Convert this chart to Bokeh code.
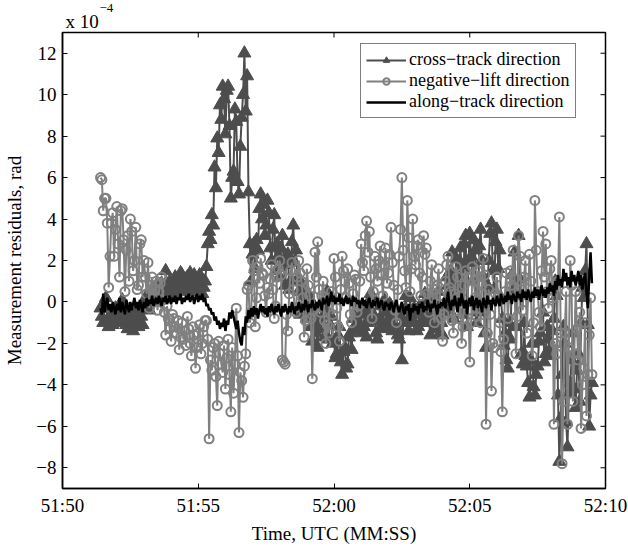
import numpy as np
from bokeh.plotting import figure
from bokeh.models import Range1d, FixedTicker, Legend, LegendItem, Title
from bokeh.embed import file_html
from bokeh.resources import INLINE

# ---------------- data (seconds after 51:50 UTC, residuals in 1e-4 rad) ----------------
t0 = 1.4       # first sample time (s after 51:50)
dt = 0.05      # sample spacing (s)

cross_track = [
    -0.3, -0.7, -1.0, -0.2, 0.2, -0.9, -1.2, -0.8, -0.6, -1.1, -0.9, -0.3,
    -0.4, -1.0, -0.8, -0.2, 0.1, -0.9, -0.6, -1.1, -1.3, -0.5, -0.9, -1.2, -1.4, -0.8, -0.5, -1.0, -1.2, -0.3, -0.7, -1.1,
    -0.2, 0.1, 0.3, -0.3, -0.4, 0.2, 0.5, 0.0, 0.2, 0.8, 0.6, 0.3, 0.1, 0.9, 0.7, 0.2, 1.5, 0.8, 0.4, 1.0,
    0.9, 0.4, 0.5, 1.2, 1.1, 0.6, 0.6, 1.4, 1.3, 0.8, 0.7, 1.1, 1.2, 0.5, 1.4, 1.0, 0.8, 1.3, 1.1, 0.6,
    0.8, 1.3, 1.2, 0.4, 0.7, 1.0, 1.7, 2.8, 3.4, 3.0, 4.2, 3.7, 6.5, 5.5, 7.9, 7.2, 9.5, 8.8, 10.4, 9.8,
    8.1, 10.2, 10.4, 8.5, 5.0, 6.0, 6.3, 9.3, 8.7, 5.8, 5.2, 7.5, 8.9, 10.0, 12.0, 9.2, 10.9, 5.3, 2.8, 1.0,
    2.3, 2.8, 1.6, 3.0, 2.5, 4.5, 5.2, 4.0, 4.7, 3.2, 3.7, 4.9, 4.3, 2.6, 2.0, 3.5, 4.2, 1.5, 2.8, 2.2,
    1.2, 2.6, 3.2, 1.8, 0.8, 2.0, 2.3, 0.6, 1.0, 2.9, 3.7, 1.9, 2.5, 1.1, 0.5, -0.6, -0.4, 0.8, 0.3, -0.2,
    -0.8, 0.4, 0.2, -1.2, -1.9, -0.5, -0.6, -1.5, -2.2, -1.0, -0.9, -0.2, -1.3, -1.7, -0.3, 0.5, -1.8, -1.1, -0.7, -2.0,
    -1.9, -2.7, -2.5, -1.6, -1.2, -2.9, -3.5, -2.4, -2.2, -3.2, -3.0, -1.7, -1.5, -2.3, -0.8, -1.4, -1.1, -0.3, -0.4, -1.3,
    -0.6, -1.5, -1.2, -0.5, -1.7, -1.0, -0.4, 0.4, 0.3, -0.6, -0.8, -1.5, -1.8, -0.9, -0.2, -1.3, -1.0, 0.1, -0.5, -1.2,
    -0.9, -0.1, -0.2, -1.4, -1.1, -0.3, -0.6, -1.6, -1.8, -0.7, -2.8, -1.0, -0.4, 0.3, -0.9, -1.4, 0.2, -0.6, -1.0, -0.3,
    -0.5, -1.4, -1.2, -0.2, -0.3, -1.0, -0.8, 0.4, 0.1, -0.7, -1.0, -1.6, -0.4, 0.2, -1.3, -0.9, -0.6, 0.5, -1.5, -1.0,
    -1.6, -0.5, -0.3, 1.2, 0.8, -0.4, 1.5, 2.4, -0.8, 0.9, 2.1, 1.3, 0.5, 2.6, 1.8, -0.6, 2.8, 3.2, -1.2, 1.9,
    3.3, 2.2, 1.0, 3.0, 2.5, -1.0, -0.5, 2.7, 3.5, 2.0, 1.2, -1.5, -2.2, 0.8, 2.0, 3.3, 3.8, 1.5, 0.6, 2.9,
    3.5, 1.6, 2.5, 0.2, -0.8, -2.1, -1.5, -2.8, -3.2, -1.0, -1.8, 1.3, 0.5, 2.4, -1.2, 0.3, 3.2, 1.1, -2.5, -3.0,
    -1.0, -2.6, -3.1, -3.9, -4.6, -2.8, -2.0, -4.1, -4.5, -3.5, -3.1, -1.9, -1.5, 0.4, -0.5, -2.9, -2.5, -1.2, -1.8, -2.6,
    -2.2, -1.4, -0.8, 1.0, 0.3, -4.5, -7.7, -5.6, -3.5, -1.2, -2.0, -5.8, -7.0, -4.4, -3.9, -2.8, -1.5, -4.2, -5.1, -3.3,
    -2.5, -4.8, -1.0, 0.7, 0.2, 1.5, 2.8, -1.1, -6.0, -4.5, -3.9,
]

negative_lift = [
    6.0, 5.9, 4.4, 5.0, 5.0, 3.8, 0.7, 2.2, 3.8, 4.3, 2.2, 3.5,
    4.6, 2.8, 1.2, 4.4, 4.5, 3.0, 0.5, 2.5, 3.2, 1.0, 4.0, 3.4, 1.5, 2.0, 3.6, 0.6, 0.8, 2.8, 3.0, 1.2,
    2.0, 1.2, 0.4, 1.9, -0.3, 0.8, 1.2, 0.2, 0.6, 1.0, -0.4, 0.5, 0.9, 1.2, 0.1, -0.5, -1.6, -0.2, -0.8, -1.3,
    -1.9, -0.6, -0.8, -1.2, -1.5, -0.9, -2.3, -1.7, -1.0, -1.8, -1.4, -2.1, -0.7, -1.3, -2.0, -2.6, -1.2, -1.6, -3.2, -2.2,
    -1.5, -1.1, -2.5, -2.0, -1.2, -0.9, -0.9, -1.8, -6.6, -2.8, -3.3, -2.2, -2.0, -3.6, -5.0, -1.9, -2.5, -3.0, -3.4, -2.1,
    -4.2, -2.7, -1.8, -3.5, -5.3, -2.2, -4.4, -3.0, -0.3, -2.6, -6.3, -3.4, -3.8, -4.6, -3.1, -2.5, 0.6, 0.8, -1.0, -0.5,
    2.0, 1.5, -1.2, 0.2, 1.7, 0.9, 2.1, 1.4, 1.3, 0.3, -0.5, 0.7, 0.4, 1.1, 1.8, 0.6, -0.8, -0.2, 1.2, 1.6,
    2.0, 1.3, -2.8, -2.9, -3.0, -0.6, -1.4, 0.4, 1.5, 1.9, 0.6, -0.3, -0.5, 1.2, 2.0, 1.4, 1.0, 0.2, -1.7, -0.9,
    1.6, 0.8, 0.3, -0.8, -3.7, -0.4, 2.4, 1.2, 2.9, 0.6, -0.5, 0.3, 1.0, -0.9, -2.0, -1.1, -1.5, 0.2, 0.5, -0.6,
    2.1, 1.2, -0.3, -1.2, -1.9, 0.6, 2.2, 1.5, 1.0, 0.2, 1.6, 0.9, -0.6, -1.0, 0.4, 1.3, 1.1, -0.5, -0.2, 1.0,
    2.8, 1.9, 1.5, 3.2, 3.9, 2.4, 3.4, 1.2, -0.8, 0.5, 2.2, 1.6, 1.0, 2.0, 2.7, 1.3, 0.3, 1.8, 2.6, 0.9,
    1.4, 2.3, 3.6, 1.9, 0.8, -0.4, -1.0, 0.6, 2.2, 3.5, 6.0, 2.5, 1.5, 0.7, 4.9, 3.1, 0.5, 1.6, 4.0, 2.2,
    1.8, 2.7, 3.0, 1.4, 0.3, 1.2, 3.2, 2.3, 2.6, 0.4, -0.5, 1.0, 1.8, 0.2, -1.0, 0.6, 0.8, 1.6, 0.3, -0.8,
    -1.9, -0.6, 1.0, 1.8, 2.2, 0.7, 0.5, -0.9, -1.5, 0.4, 1.7, 1.2, -0.8, 0.3, -2.0, -1.2, 0.8, 1.5, 1.2, -0.4,
    -2.9, -1.0, 1.7, 1.0, 0.2, -0.7, 1.5, 0.9, -1.0, 0.8, 2.1, 1.3, -5.9, -1.5, 0.6, -0.6, -4.3, -2.0, -2.2, 0.4,
    1.2, 0.3, -1.0, -2.4, -5.3, -1.8, 0.5, 1.4, -0.8, 0.2, 1.5, 0.8, 2.5, 1.1, -2.5, -0.7, 3.2, 2.2, 0.6, -0.4,
    1.2, 2.0, -1.5, 0.3, 2.3, 1.0, -2.6, -1.0, 4.9, 2.5, 0.5, -0.5, -1.2, 1.5, 3.4, 1.2, 2.8, 0.5, -0.3, 1.6,
    2.0, 0.2, -5.9, -2.0, -2.5, 1.0, 4.1, -1.5, -7.8, -4.8, -1.5, 0.5, -5.9, -2.2, 2.0, 0.8, -4.8, -2.5, 0.5, -1.3,
    -2.8, -0.5, -6.1, -4.0, -3.2, -1.0, -5.5, -3.5, -1.6, 0.2, -3.5,
]

along_track = [
    -0.3, -0.6, 0.4, -0.5, -0.1, 0.2, -0.4, -0.1, -0.5, 0.0, -0.3, -0.6,
    -0.1, -0.4, 0.2, -0.5, 0.0, -0.3, -0.6, 0.1, -0.2, -0.5, 0.0, -0.4, -0.1, 0.2, -0.3, 0.0, -0.4, 0.1, -0.2, -0.5,
    0.0, -0.3, 0.2, -0.2, 0.1, -0.1, 0.3, -0.2, 0.0, 0.2, -0.1, 0.3, 0.0, -0.2, 0.2, 0.0, 0.3, -0.1, 0.1, 0.3,
    -0.1, 0.2, 0.0, 0.3, -0.1, 0.2, 0.1, 0.4, -0.1, 0.2, 0.0, 0.3, 0.1, 0.4, 0.0, 0.2, 0.3, -0.1, 0.2, 0.4,
    0.0, 0.3, 0.1, 0.4, 0.0, 0.2, -0.2, -0.1, -0.4, -0.3, -0.6, -0.5, -0.9, -0.7, -1.1, -0.9, -1.3, -1.0, -1.2, -0.8,
    -1.4, -0.9, -1.1, -0.5, -0.8, -0.4, -0.7, -1.0, -1.3, -0.9, -1.5, -1.9, -2.1, -1.2, -1.6, -0.7, -1.0, -0.4, -0.8, -0.3,
    -0.7, -0.2, -0.6, -0.3, -0.8, -0.4, -0.1, -0.5, -0.2, -0.6, -0.3, -0.7, -0.2, -0.5, -0.1, -0.4, -0.6, -0.2, -0.5, -0.1,
    -0.4, -0.7, -0.2, -0.5, -0.1, -0.4, -0.6, -0.2, -0.5, 0.0, -0.3, -0.6, -0.2, -0.4, 0.0, -0.3, -0.5, -0.1, -0.4, 0.1,
    -0.2, -0.5, -0.1, -0.3, 0.1, -0.2, -0.4, 0.0, -0.3, 0.1, -0.1, -0.4, 0.2, -0.1, 0.0, 0.3, -0.2, 0.1, 0.5, 0.0,
    0.3, -0.1, 0.2, 0.0, 0.4, -0.1, 0.2, -0.2, 0.1, 0.3, -0.1, 0.2, 0.0, -0.2, 0.3, 0.0, 0.2, -0.1, 0.1, -0.3,
    0.0, 0.2, -0.2, 0.1, -0.3, 0.0, 0.2, -0.1, -0.3, 0.1, -0.2, 0.0, 0.2, -0.3, -0.1, 0.1, -0.2, -0.4, 0.0, -0.2,
    -0.1, -0.4, 0.0, -0.2, -0.5, -0.1, 0.1, -0.3, -0.5, -0.2, 0.0, -0.4, -0.6, -0.2, -0.4, -0.1, -0.9, -0.3, -0.5, -0.1,
    -0.4, -0.2, -0.6, -0.1, -0.3, 0.0, -0.5, -0.2, -0.4, 0.1, -0.2, -0.5, -0.1, -0.3, 0.1, -0.2, -0.6, -0.1, -0.3, 0.0,
    -0.2, 0.2, -0.3, 0.0, 0.5, -0.1, -0.4, 0.1, -0.2, 0.3, -0.1, -0.5, 0.2, -0.2, 0.4, 0.0, -0.3, 0.1, -0.6, 0.0,
    0.2, -0.2, 0.3, -0.4, 0.0, 0.2, -0.3, 0.1, -0.1, -0.5, 0.2, 0.0, -0.3, 0.3, -0.1, 0.1, -0.4, 0.2, 0.0, -0.2,
    0.3, 0.0, -0.2, 0.4, 0.1, -0.1, 0.3, 0.0, 0.5, 0.1, 0.3, -0.1, 0.4, 0.2, 0.0, 0.5, 0.2, 0.4, 0.0, 0.6,
    0.2, 0.5, 0.1, 0.6, 0.3, 0.0, 0.5, 0.2, 0.7, 0.3, 0.6, 0.1, 0.5, 0.8, 0.3, 0.6, 0.2, 0.7, 0.4, 0.9,
    0.5, 0.8, 0.3, 1.0, 0.6, 1.3, 0.8, 1.1, 0.7, 1.6, 1.0, 1.4, 0.8, 1.2, 0.7, 1.5, 1.0, 1.3, 0.8, 1.1,
    1.5, 0.8, 1.3, 0.6, 1.1, 1.4, 0.4, -0.3, 1.2, 2.4, 0.9,
]

x_ticks = [0, 5, 10, 15, 20]
x_tick_labels = ["51:50", "51:55", "52:00", "52:05", "52:10"]
y_ticks = [-8, -6, -4, -2, 0, 2, 4, 6, 8, 10, 12]
y_tick_labels = ["\u22128", "\u22126", "\u22124", "\u22122", "0", "2", "4", "6", "8", "10", "12"]
series_labels = ["cross\u2212track direction", "negative\u2212lift direction", "along\u2212track direction"]
scale_base = "x 10"
scale_exp = "\u22124"

t_cross = t0 + dt * np.arange(len(cross_track))
t_neg = t0 + dt * np.arange(len(negative_lift))
t_along = t0 + dt * np.arange(len(along_track))

SERIF = "Liberation Serif"
DARK = "#4d4d4d"
MID = "#808080"
X0, X1, Y0, Y1 = 0, 20, -9, 13
FRAME_W, FRAME_H = 543, 456

p = figure(width=628, height=546, output_backend="svg", toolbar_location=None,
           x_range=Range1d(X0, X1), y_range=Range1d(Y0, Y1),
           min_border_left=62, min_border_right=23, min_border_top=32, min_border_bottom=58)
p.xgrid.visible = False
p.ygrid.visible = False
p.outline_line_color = "black"
p.outline_line_width = 1.5
p.background_fill_color = "white"
p.border_fill_color = "white"

# exponent (outer title, pulled down so it sits as a superscript beside "x 10")
p.title.text = scale_exp
p.title.align = "left"
p.title.offset = 37
p.title.standoff = -9
p.title.text_font = SERIF
p.title.text_font_size = "13px"
p.title.text_font_style = "normal"
p.title.text_color = "black"

# base "x 10" (inner title, right above the frame)
p.add_layout(Title(text=scale_base, align="left", offset=3, standoff=2,
                   text_font=SERIF, text_font_size="19px", text_font_style="normal",
                   text_color="black"), "above")

p.xaxis.ticker = FixedTicker(ticks=x_ticks)
p.xaxis.major_label_overrides = dict(zip(x_ticks, x_tick_labels))
p.yaxis.ticker = FixedTicker(ticks=y_ticks)
p.yaxis.major_label_overrides = dict(zip(y_ticks, y_tick_labels))
p.xaxis.axis_label = "Time, UTC (MM:SS)"
p.yaxis.axis_label = "Measurement residuals, rad"

for ax in [p.xaxis[0], p.yaxis[0]]:
    ax.major_tick_in = 5
    ax.major_tick_out = 0
    ax.minor_tick_in = 0
    ax.minor_tick_out = 0
    ax.axis_line_width = 1.5
    ax.axis_line_color = "black"
    ax.major_tick_line_color = "black"
    ax.major_label_text_font = SERIF
    ax.major_label_text_font_size = "19px"
    ax.major_label_text_color = "black"
    ax.axis_label_text_font = SERIF
    ax.axis_label_text_font_size = "19px"
    ax.axis_label_text_font_style = "normal"
    ax.axis_label_text_color = "black"
p.xaxis.major_label_standoff = 6
p.xaxis.axis_label_standoff = 4
p.yaxis.major_label_standoff = 6
p.yaxis.axis_label_standoff = 8

# mirror tick marks on top and right edges (MATLAB box style), 5 px long
tick_dy = 5 * (Y1 - Y0) / FRAME_H
tick_dx = 5 * (X1 - X0) / FRAME_W
p.segment(x0=x_ticks, y0=[Y1] * len(x_ticks), x1=x_ticks, y1=[Y1 - tick_dy] * len(x_ticks),
          line_color="black", line_width=1)
p.segment(x0=[X1] * len(y_ticks), y0=y_ticks, x1=[X1 - tick_dx] * len(y_ticks), y1=y_ticks,
          line_color="black", line_width=1)

# series
cl = p.line(t_cross, cross_track, line_color=DARK, line_width=2)
cs = p.scatter(t_cross, cross_track, marker="triangle", size=13,
               fill_color=DARK, line_color=DARK, line_width=1)
nl = p.line(t_neg, negative_lift, line_color=MID, line_width=2)
ns = p.scatter(t_neg, negative_lift, marker="circle", size=9,
               fill_color=None, line_color=MID, line_width=2)
al = p.line(t_along, along_track, line_color="black", line_width=2.5)

legend = Legend(items=[
    LegendItem(label=series_labels[0], renderers=[cl, cs]),
    LegendItem(label=series_labels[1], renderers=[nl, ns]),
    LegendItem(label=series_labels[2], renderers=[al]),
], location=(298, 370))
legend.border_line_color = "black"
legend.border_line_width = 1
legend.background_fill_color = "white"
legend.background_fill_alpha = 1
legend.label_text_font = SERIF
legend.label_text_font_size = "18px"
legend.label_text_color = "black"
legend.glyph_width = 40
legend.glyph_height = 16
legend.label_height = 16
legend.label_standoff = 3
legend.spacing = 0
legend.padding = 5
legend.margin = 0
p.add_layout(legend)

open("out.html", "w").write(file_html(p, INLINE))
